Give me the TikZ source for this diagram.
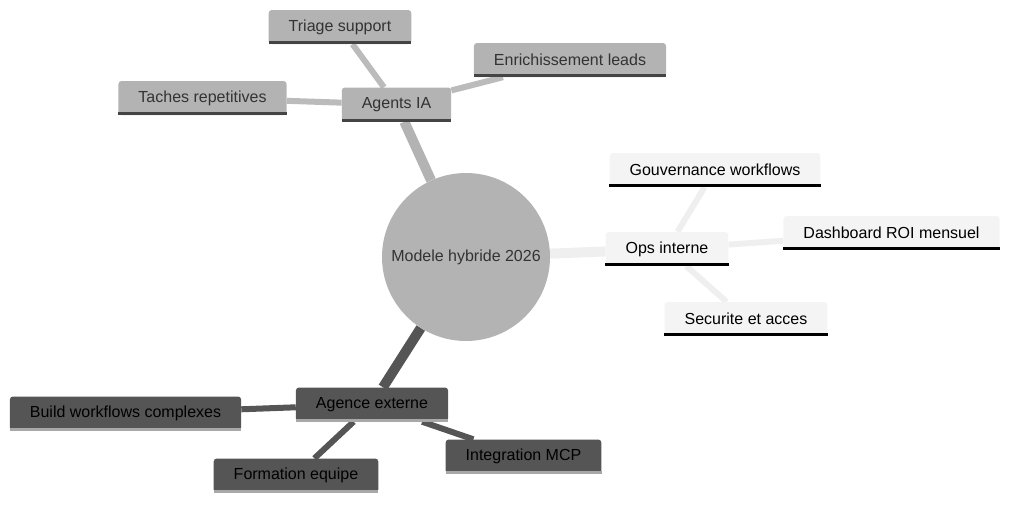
\documentclass[tikz,border=0pt]{standalone}
\usepackage{fontspec}
\setmainfont{Liberation Sans}
\definecolor{iagray}{HTML}{B3B3B3}
\definecolor{iabar}{HTML}{444444}
\definecolor{opsfill}{HTML}{F4F4F4}
\definecolor{opsline}{HTML}{EFEFEF}
\definecolor{extfill}{HTML}{555555}
\definecolor{extbar}{HTML}{A8A8A8}
\usetikzlibrary{backgrounds}

\begin{document}
\begin{tikzpicture}[x=1pt, y=-1pt,
  leaf/.style={rectangle, rounded corners=3pt, minimum height=34pt,
               inner xsep=20pt, inner ysep=2pt, font=\fontsize{16}{19}\selectfont},
  ia/.style={leaf, fill=iagray, text=black!80},
  ops/.style={leaf, fill=opsfill, text=black},
  ext/.style={leaf, fill=extfill, text=black},
  root/.style={circle, fill=iagray, minimum size=168pt, inner sep=0pt,
               text=black!80, font=\fontsize{16}{19}\selectfont},
  trunk/.style={line width=10pt},
  twig/.style={line width=6pt},
  bar/.style={line width=3pt}
]
\useasboundingbox (0,0) rectangle (1011,504);

\node[root] (root) at (466,257) {Modele hybride 2026};

% Agents IA
\node[ia] (agents) at (396.5,104.5) {Agents IA};
\node[ia] (triage) at (340,27) {Triage support};
\node[ia] (enrich) at (570,60) {Enrichissement leads};
\node[ia] (taches) at (202.5,98) {Taches repetitives};

% Ops interne
\node[ops] (opsint) at (667,249) {Ops interne};
\node[ops] (gouv) at (715,170) {Gouvernance workflows};
\node[ops] (dash) at (891.5,233) {Dashboard ROI mensuel};
\node[ops] (secu) at (746,319) {Securite et acces};

% Agence externe
\node[ext] (agence) at (372,404.5) {Agence externe};
\node[ext] (build) at (125.5,413.5) {Build workflows complexes};
\node[ext] (formation) at (296,475.5) {Formation equipe};
\node[ext] (integ) at (523.5,456.5) {Integration MCP};

% bottom bars
\foreach \n/\c in {agents/iabar, triage/iabar, enrich/iabar, taches/iabar,
                   opsint/black, gouv/black, dash/black, secu/black,
                   agence/extbar, build/extbar, formation/extbar, integ/extbar}
  \draw[bar, \c] ([yshift=1.5pt]\n.south west) -- ([yshift=1.5pt]\n.south east);

\begin{scope}[on background layer]
  \draw[trunk, iagray] (root) -- (agents);
  \draw[twig, iagray!90!white] (agents) -- (triage);
  \draw[twig, iagray!90!white] (agents) -- (enrich);
  \draw[twig, iagray!90!white] (agents) -- (taches);
  \draw[trunk, opsline] (root) -- (opsint);
  \draw[twig, opsline] (opsint) -- (gouv);
  \draw[twig, opsline] (opsint) -- (dash);
  \draw[twig, opsline] (opsint) -- (secu);
  \draw[trunk, extfill] (root) -- (agence);
  \draw[twig, extfill] (agence) -- (build);
  \draw[twig, extfill] (agence) -- (formation);
  \draw[twig, extfill] (agence) -- (integ);
\end{scope}
\end{tikzpicture}
\end{document}
